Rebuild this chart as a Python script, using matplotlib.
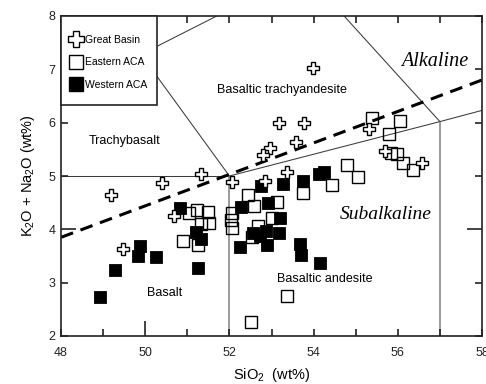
import matplotlib
matplotlib.use("Agg")
import matplotlib.pyplot as plt
from matplotlib.lines import Line2D
from matplotlib.patches import Rectangle

plt.rcParams['font.family'] = ['Liberation Sans', 'DejaVu Sans']
plt.rcParams['mathtext.default'] = 'regular'

# ---- sample compositions (SiO2 wt%, K2O + Na2O wt%) ----
great_basin_sio2 = [53.99, 53.18, 53.77, 53.58, 52.96, 52.80, 53.37, 52.85, 52.06,
                    51.33, 50.40, 49.19, 50.68, 49.47, 55.32, 55.70, 56.57]
great_basin_alk = [7.03, 5.99, 5.99, 5.64, 5.53, 5.39, 5.08, 4.91, 4.89,
                   5.04, 4.87, 4.64, 4.25, 3.63, 5.88, 5.47, 5.24]

eastern_sio2 = [51.05, 51.22, 51.48, 51.33, 51.52, 50.90, 51.25,
                52.45, 52.59, 53.13, 53.01, 52.68, 52.06, 52.03, 52.06, 52.54,
                53.75, 53.37, 52.51,
                55.39, 56.06, 55.80, 55.84, 55.99, 56.13, 56.35,
                54.79, 55.05, 54.43]
eastern_alk = [4.30, 4.36, 4.32, 4.10, 4.12, 3.78, 3.70,
               4.64, 4.44, 4.51, 4.21, 4.06, 4.31, 4.18, 4.03, 3.85,
               4.68, 2.75, 2.26,
               6.09, 6.03, 5.79, 5.43, 5.41, 5.24, 5.11,
               5.20, 4.99, 4.83]

western_sio2 = [48.93, 49.28, 49.88, 49.83, 50.26, 50.83, 51.21, 51.33, 51.25,
                52.28, 52.75, 53.27, 53.75, 52.92, 53.20, 52.56, 52.73, 52.87,
                52.89, 53.18, 52.25, 53.68, 53.70, 54.15, 54.13, 54.25]
western_alk = [2.73, 3.24, 3.69, 3.50, 3.48, 4.40, 3.95, 3.82, 3.28,
               4.42, 4.81, 4.85, 4.91, 4.49, 4.21, 3.93, 3.88, 3.97,
               3.71, 3.93, 3.67, 3.73, 3.52, 3.37, 5.04, 5.08]

# ---- TAS field boundaries ----
b_trachybasalt_x = [48, 52]
b_trachybasalt_y = [5.0, 5.0]
b_bta_left_x = [52, 49.9, 51.7, 52.5]
b_bta_left_y = [5.0, 7.28, 8.0, 8.32]
b_bta_low_x = [52, 57, 58]
b_bta_low_y = [5.0, 6.02, 6.23]
b_bta_right_x = [57, 53]
b_bta_right_y = [6.02, 9.5]
b_basalt_x = [52, 52]
b_basalt_y = [2, 5.0]
b_andesite_x = [57, 57]
b_andesite_y = [2, 6.02]

# alkaline / subalkaline divide
divide_x = [48, 58]
divide_y = [3.85, 6.80]

x_ticks = list(range(48, 59))
x_tick_labels = [str(v) if v % 2 == 0 else '' for v in x_ticks]
y_ticks = list(range(2, 9))
y_tick_labels = [str(v) for v in y_ticks]

fig = plt.figure(figsize=(4.86, 3.84), dpi=100)
ax = fig.add_axes([61 / 486, 48 / 384, 421 / 486, 320 / 384])
ax.set_xlim(48, 58)
ax.set_ylim(2, 8)

thin = dict(color='#3a3a3a', lw=0.75, zorder=1, solid_capstyle='butt')
grey = dict(color='#8a8a8a', lw=1.2, zorder=1, solid_capstyle='butt')
ax.plot(b_trachybasalt_x, b_trachybasalt_y, **thin)
ax.plot(b_bta_left_x, b_bta_left_y, **thin)
ax.plot(b_bta_low_x, b_bta_low_y, **thin)
ax.plot(b_bta_right_x, b_bta_right_y, **thin)
ax.plot(b_basalt_x, b_basalt_y, **grey)
ax.plot(b_andesite_x, b_andesite_y, **grey)
ax.plot(divide_x, divide_y, color='k', lw=2.2, dashes=(4.2, 2.6), zorder=1.5)

ax.plot(eastern_sio2, eastern_alk, 's', ms=8, mfc='none', mec='k', mew=1.0,
        zorder=2, label='Eastern ACA')
ax.plot(western_sio2, western_alk, 's', ms=8.3, mfc='k', mec='k', mew=0.6,
        zorder=3, label='Western ACA')
ax.plot(great_basin_sio2, great_basin_alk, 'P', ms=9, mfc='white', mec='k',
        mew=1.0, zorder=4, label='Great Basin')

# field names
ax.text(49.52, 5.66, 'Trachybasalt', ha='center', va='center', fontsize=9)
ax.text(53.25, 6.61, 'Basaltic trachyandesite', ha='center', va='center', fontsize=9)
ax.text(50.47, 2.81, 'Basalt', ha='center', va='center', fontsize=9)
ax.text(54.27, 3.07, 'Basaltic andesite', ha='center', va='center', fontsize=9)
ax.text(56.88, 7.15, 'Alkaline', ha='center', va='center', fontsize=14.5,
        family='Liberation Serif', style='italic')
ax.text(55.72, 4.27, 'Subalkaline', ha='center', va='center', fontsize=14,
        family='Liberation Serif', style='italic')

ax.set_xticks(x_ticks)
ax.set_xticklabels(x_tick_labels)
ax.set_yticks(y_ticks)
ax.set_yticklabels(y_tick_labels)
ax.tick_params(direction='in', top=True, right=True, length=5, width=1.2,
               colors='#222', labelsize=9)
ax.tick_params(axis='x', pad=8)
ax.tick_params(axis='y', pad=4)
for t, v in zip(ax.xaxis.get_major_ticks(), x_ticks):
    if v == 50:
        t.tick1line.set_markersize(11)
        t.tick2line.set_markersize(11)
for t, v in zip(ax.yaxis.get_major_ticks(), y_ticks):
    if v == 4:
        t.tick1line.set_markersize(11)
        t.tick2line.set_markersize(11)
for s in ax.spines.values():
    s.set_linewidth(1.2)
    s.set_color('#222')

ax.set_xlabel('SiO$_2$  (wt%)', fontsize=10.5, labelpad=5)
ax.set_ylabel('K$_2$O + Na$_2$O (wt%)', fontsize=10.5, labelpad=8)

# legend box in the upper-left corner of the axes
ax.add_patch(Rectangle((0, 1 - 89 / 320), 96 / 421, 89 / 320,
                       transform=ax.transAxes, facecolor='white',
                       edgecolor='#222', lw=1.2, zorder=9, clip_on=False))
handles = [
    Line2D([], [], ls='none', marker='P', ms=11.5, mfc='white', mec='k', mew=1.0),
    Line2D([], [], ls='none', marker='s', ms=10, mfc='none', mec='k', mew=1.0),
    Line2D([], [], ls='none', marker='s', ms=10, mfc='k', mec='k'),
]
leg = ax.legend(handles, ['Great Basin', 'Eastern ACA', 'Western ACA'],
                loc='upper left', bbox_to_anchor=(10 / 421, 1 - 19 / 320),
                borderaxespad=0, borderpad=0, fontsize=7.5, frameon=False,
                handlelength=1.0, handletextpad=0.35, labelspacing=1.18)
leg.set_zorder(10)

fig.savefig('out.png', dpi=100)
